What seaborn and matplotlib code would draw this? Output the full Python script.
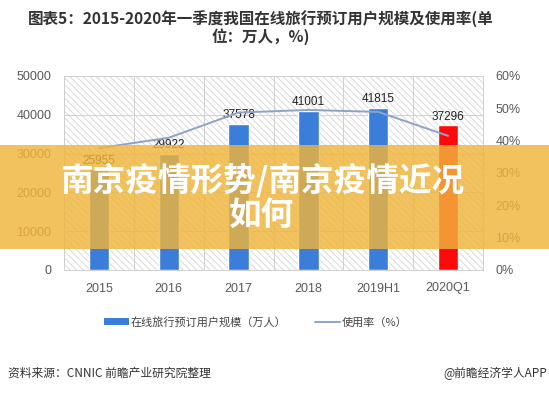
import pandas as pd
import matplotlib.pyplot as plt
import seaborn as sns
from matplotlib.patches import Rectangle, Patch
from matplotlib.lines import Line2D
from matplotlib.ticker import FixedLocator

categories = ["2015", "2016", "2017", "2018", "2019H1", "2020Q1"]
users = [25955, 29922, 37578, 41001, 41815, 37296]
usage_rate = [37.7, 40.9, 48.7, 49.5, 48.9, 41.5]
bar_colors = ["#3a7ed9", "#3a7ed9", "#3a7ed9", "#3a7ed9", "#3a7ed9", "#ff0a0a"]
left_ticks = [0, 10000, 20000, 30000, 40000, 50000]
right_ticks = [0, 10, 20, 30, 40, 50, 60]

df = pd.DataFrame({"year": categories, "users": users, "rate": usage_rate})

sns.set_theme(style="white")
plt.rcParams["font.family"] = ["Noto Sans CJK SC", "DejaVu Sans"]
plt.rcParams["hatch.color"] = "#d4d4d4"
plt.rcParams["hatch.linewidth"] = 0.6
num_font = ["Liberation Sans", "DejaVu Sans"]

fig = plt.figure(figsize=(5.49, 3.95), dpi=100)
ax = fig.add_axes([64 / 549, 1 - 270 / 395, 419 / 549, 194 / 395])

# hatched plot background
ax.add_patch(Rectangle((0, 0), 1, 1, transform=ax.transAxes, facecolor="white",
                       edgecolor="#d4d4d4", hatch="\\\\\\\\\\", lw=0, zorder=0))

sns.barplot(data=df, x="year", y="users", hue="year", palette=bar_colors,
            width=0.29, legend=False, ax=ax, zorder=2, saturation=1)
for c in ax.containers:
    ax.bar_label(c, fmt="%d", padding=2, fontsize=8.5, color="#222222", family=num_font)

ax.set_ylim(0, 50000)
ax.set_xlim(-0.5, len(categories) - 0.5)
ax.set_yticks(left_ticks)
ax.xaxis.set_minor_locator(FixedLocator([i - 0.5 for i in range(len(categories) + 1)]))
ax.grid(True, axis="y", color="#d0d0d0", lw=0.7, zorder=1)
ax.grid(True, axis="x", which="minor", color="#d0d0d0", lw=0.7, zorder=1)
ax.set_axisbelow(True)
ax.set_xlabel("")
ax.set_ylabel("")
ax.tick_params(axis="both", which="both", length=0, labelsize=9, labelcolor="#595959")
ax.tick_params(axis="y", pad=9)
ax.tick_params(axis="x", pad=9)
for lab in ax.get_xticklabels() + ax.get_yticklabels():
    lab.set_family(num_font)
for s in ax.spines.values():
    s.set_color("#d0d0d0")
    s.set_linewidth(0.7)

ax2 = ax.twinx()
sns.lineplot(x=list(range(len(categories))), y=usage_rate, color="#8fa3c9", lw=1.4, ax=ax2, zorder=3)
ax2.set_ylim(0, 60)
ax2.set_yticks(right_ticks)
ax2.set_yticklabels([f"{t}%" for t in right_ticks])
ax2.tick_params(axis="y", length=0, labelsize=9, labelcolor="#595959", pad=9)
for lab in ax2.get_yticklabels():
    lab.set_family(num_font)
for s in ax2.spines.values():
    s.set_visible(False)

# title
fig.text(261 / 549, 1 - 28 / 395,
         "图表5：2015-2020年一季度我国在线旅行预订用户规模及使用率(单\n位：万人，%)",
         ha="center", va="center", fontsize=11.2, fontweight="bold", color="#333333",
         multialignment="center", linespacing=1.05)

# legend
handles = [Patch(facecolor="#3a7ed9", edgecolor="none"),
           Line2D([0], [0], color="#8fa3c9", lw=1.4)]
fig.legend(handles, ["在线旅行预订用户规模（万人）", "使用率（%）"], loc="center",
           bbox_to_anchor=(256 / 549, 1 - 322 / 395), ncol=2, frameon=False,
           fontsize=8, handlelength=2.2, handleheight=0.6, handletextpad=0.2,
           columnspacing=2.6, labelcolor="#444444")

# footer
fig.text(8 / 549, 1 - 373 / 395, "资料来源：CNNIC 前瞻产业研究院整理", ha="left", va="center",
         fontsize=8.5, color="#333333")
fig.text(547 / 549, 1 - 373 / 395, "@前瞻经济学人APP", ha="right", va="center",
         fontsize=8.5, color="#333333")

# orange banner overlay
fig.patches.append(Rectangle((0, 1 - 249 / 395), 1, 104 / 395, transform=fig.transFigure,
                             facecolor="#f0b53c", edgecolor="none", alpha=0.82, zorder=5))
fig.text(262 / 549, 1 - 180 / 395, "南京疫情形势/南京疫情近况", ha="center", va="center",
         fontsize=23.5, fontweight="heavy", color="white", zorder=6)
fig.text(262 / 549, 1 - 215 / 395, "如何", ha="center", va="center",
         fontsize=23.5, fontweight="heavy", color="white", zorder=6)

fig.savefig("out.png", dpi=100)
